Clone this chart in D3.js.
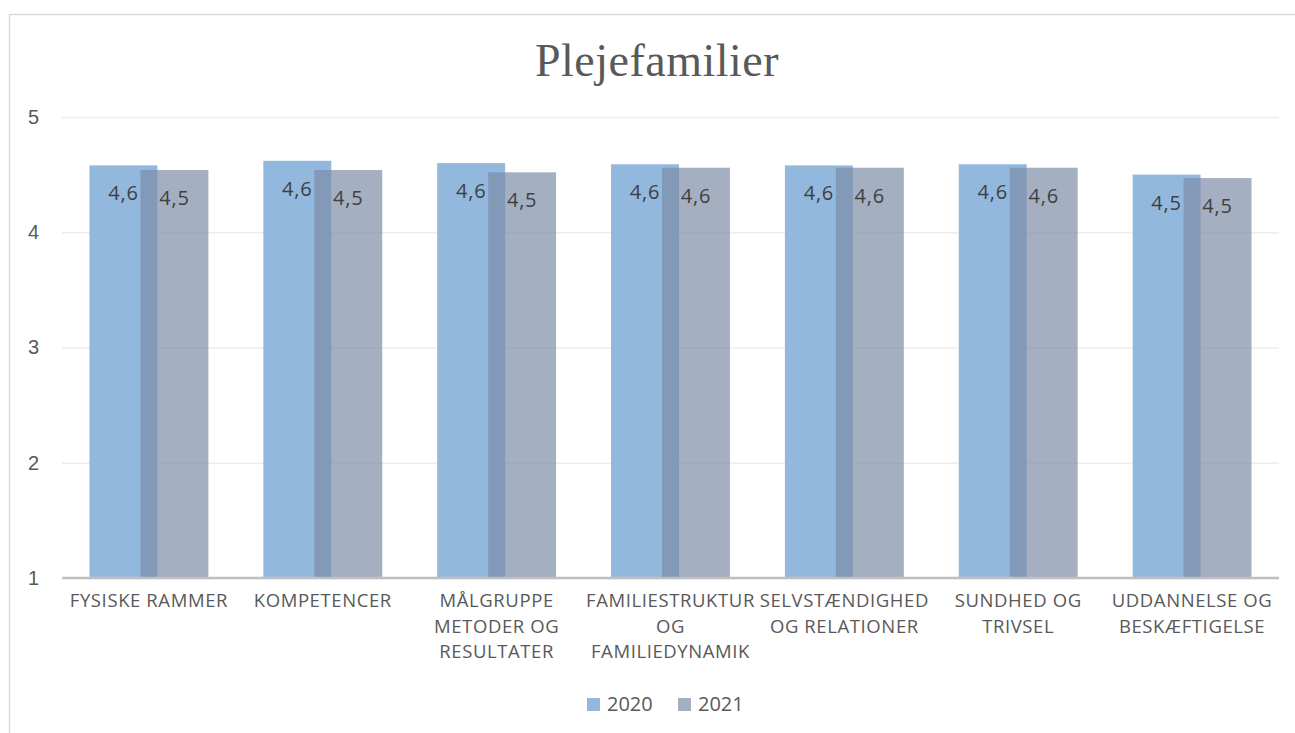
<!DOCTYPE html>
<html>
<head>
<meta charset="utf-8">
<script src="https://cdn.jsdelivr.net/npm/d3@7"></script>
<style>
    html, body { margin: 0; padding: 0; background: #fff; overflow: hidden; }
</style>
</head>
<body>
<div id="chart"></div>
<script>
// data
const categories = [
    ["FYSISKE RAMMER"],
    ["KOMPETENCER"],
    ["MÅLGRUPPE", "METODER OG", "RESULTATER"],
    ["FAMILIESTRUKTUR", "OG", "FAMILIEDYNAMIK"],
    ["SELVSTÆNDIGHED", "OG RELATIONER"],
    ["SUNDHED OG", "TRIVSEL"],
    ["UDDANNELSE OG", "BESKÆFTIGELSE"]
];
const values2020 = [4.58, 4.62, 4.60, 4.59, 4.58, 4.59, 4.50];
const values2021 = [4.54, 4.54, 4.52, 4.56, 4.56, 4.56, 4.47];
const seriesNames = ["2020", "2021"];
const yTicks = [1, 2, 3, 4, 5];

const width = 1295, height = 733;
const plot = {left: 62, right: 1279, top: 117, bottom: 578};

const svg = d3.select("#chart")
    .append("svg")
    .attr("width", width)
    .attr("height", height)
    .attr("viewBox", `0 0 ${width} ${height}`)
    .style("font-family", "'Open Sans', sans-serif");

// chart area border (runs off the right and bottom edge)
svg.append("rect")
    .attr("x", 9.5).attr("y", 14.5)
    .attr("width", width + 20).attr("height", height + 20)
    .attr("fill", "#fff")
    .attr("stroke", "#d9d9d9")
    .attr("stroke-width", 1.5);

svg.append("text")
    .attr("x", 657).attr("y", 76)
    .attr("text-anchor", "middle")
    .attr("font-family", "'Liberation Serif', serif")
    .attr("font-size", 46)
    .attr("letter-spacing", 0.5)
    .attr("fill", "#595959")
    .text("Plejefamilier");

const keys = categories.map(c => c.join(" "));

const x = d3.scaleBand()
    .domain(keys)
    .range([plot.left, plot.right])
    .paddingInner(0.316)
    .paddingOuter(0.158);

const y = d3.scaleLinear()
    .domain([1, 5])
    .range([plot.bottom, plot.top]);

// gridlines + y labels
const yAxis = d3.axisLeft(y)
    .tickValues(yTicks)
    .tickSize(-(plot.right - plot.left))
    .tickPadding(23)
    .tickFormat(d3.format("d"));

const gy = svg.append("g")
    .attr("transform", `translate(${plot.left},0)`)
    .call(yAxis);
gy.select(".domain").remove();
gy.selectAll(".tick line")
    .attr("stroke", "#ececec")
    .attr("stroke-width", 1.5);
gy.selectAll(".tick text")
    .attr("font-size", 20)
    .attr("fill", "#595959");

// bars: 2021 overlaps 2020 by a quarter of the bar width
const barW = x.bandwidth() / 1.75;
const series = [
    {name: seriesNames[0], values: values2020, offset: 0, fill: "#92b8de", opacity: 1},
    {name: seriesNames[1], values: values2021, offset: 0.75 * barW, fill: "rgb(125,139,167)", opacity: 0.69}
];

const fmt = v => d3.format(".1f")(v).replace(".", ",");

series.forEach(s => {
    const g = svg.append("g");
    g.selectAll("rect")
        .data(s.values)
        .join("rect")
        .attr("x", (d, i) => x(keys[i]) + s.offset)
        .attr("y", d => y(d))
        .attr("width", barW)
        .attr("height", d => y(1) - y(d))
        .attr("fill", s.fill)
        .attr("fill-opacity", s.opacity);
});

// data labels on top
series.forEach(s => {
    svg.append("g")
        .selectAll("text")
        .data(s.values)
        .join("text")
        .attr("x", (d, i) => x(keys[i]) + s.offset + barW / 2)
        .attr("y", d => y(d) + 35)
        .attr("text-anchor", "middle")
        .attr("font-size", 20)
        .attr("letter-spacing", 0.8)
        .attr("fill", "#404040")
        .text(fmt);
});

// x axis line
svg.append("line")
    .attr("x1", plot.left).attr("x2", plot.right)
    .attr("y1", y(1)).attr("y2", y(1))
    .attr("stroke", "#bfbfbf")
    .attr("stroke-width", 2.5);

// category labels
const cat = svg.append("g")
    .selectAll("text")
    .data(categories)
    .join("text")
    .attr("x", (d, i) => x(keys[i]) + x.bandwidth() / 2)
    .attr("y", 607)
    .attr("text-anchor", "middle")
    .attr("font-size", 18.5)
    .attr("letter-spacing", 0.6)
    .attr("fill", "#595959");
cat.selectAll("tspan")
    .data(d => d)
    .join("tspan")
    .attr("x", function () { return this.parentNode.getAttribute("x"); })
    .attr("dy", (d, i) => i === 0 ? 0 : 25.7)
    .text(d => d);

// legend
const legendPos = [587, 678];
const legend = svg.append("g")
    .selectAll("g")
    .data(series)
    .join("g")
    .attr("transform", (d, i) => `translate(${legendPos[i]},698)`);
legend.append("rect")
    .attr("width", 13).attr("height", 13)
    .attr("fill", d => d.fill)
    .attr("fill-opacity", d => d.opacity);
legend.append("text")
    .attr("x", 20).attr("y", 12.5)
    .attr("font-size", 20)
    .attr("fill", "#595959")
    .text(d => d.name);
</script>
</body>
</html>
